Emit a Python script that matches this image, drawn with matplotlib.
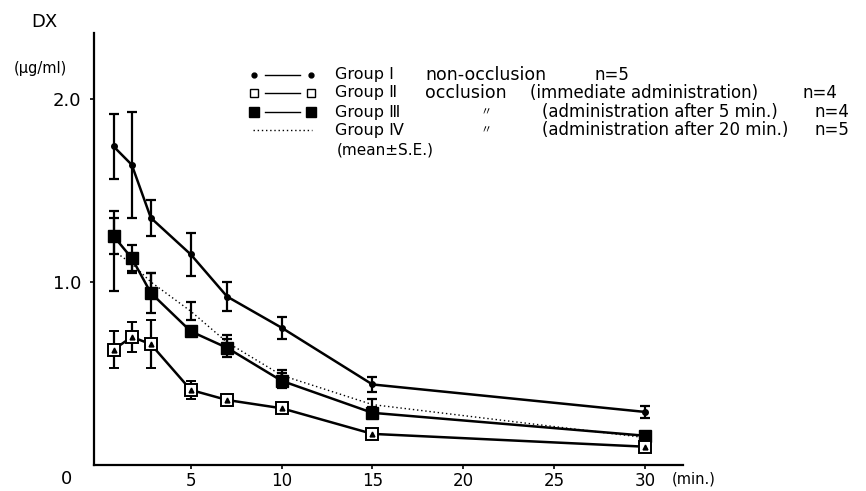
import matplotlib
matplotlib.use("Agg")
import matplotlib.pyplot as plt
from matplotlib.lines import Line2D

plt.rcParams['font.family'] = ['DejaVu Sans', 'Noto Sans CJK JP']

# sampling times (min)
minutes = [0.75, 1.75, 2.8, 5, 7, 10, 15, 30]

# DX concentration (ug/ml), mean and S.E.
group1 = [1.74, 1.64, 1.35, 1.15, 0.92, 0.75, 0.44, 0.29]
group1_se = [0.18, 0.29, 0.10, 0.12, 0.08, 0.06, 0.04, 0.035]
group2 = [0.63, 0.70, 0.66, 0.41, 0.355, 0.31, 0.17, 0.10]
group2_se = [0.10, 0.08, 0.13, 0.05, 0.03, 0.015, 0.02, 0.015]
group3 = [1.25, 1.13, 0.94, 0.73, 0.64, 0.46, 0.285, 0.16]
group3_se = [0.10, 0.07, 0.11, 0.02, 0.05, 0.04, 0.03, 0.02]
group4 = [1.17, 1.10, 1.00, 0.84, 0.67, 0.49, 0.33, 0.15]
group4_se = [0.22, 0.05, 0.05, 0.05, 0.04, 0.03, 0.03, 0.02]

x_ticks = [5, 10, 15, 20, 25, 30]
y_ticks = [1.0, 2.0]
y_tick_labels = ['1.0', '2.0']

legend_groups = ['Group Ⅰ', 'Group Ⅱ', 'Group Ⅲ', 'Group Ⅳ']
legend_cond = ['non-occlusion', 'occlusion', '〃', '〃']
legend_admin = ['', '(immediate administration)', '(administration after 5 min.)',
                '(administration after 20 min.)']
legend_n = ['n=5', 'n=4', 'n=4', 'n=5']

W, H = 866, 491
fig = plt.figure(figsize=(W / 100, H / 100), dpi=100)
ax = fig.add_axes([94 / W, (H - 465) / H, (683 - 94) / W, (465 - 33) / H])

err_kw = dict(ecolor='black', elinewidth=1.6, capsize=3.5, capthick=1.6)

ax.errorbar(minutes, group4, yerr=group4_se, color='black', lw=1.0,
            linestyle=(0, (1, 2)), **err_kw, zorder=2)
ax.errorbar(minutes, group1, yerr=group1_se, color='black', lw=1.8,
            marker='o', ms=4, **err_kw, zorder=3)
ax.errorbar(minutes, group3, yerr=group3_se, color='black', lw=1.8,
            marker='s', ms=8, mfc='black', mec='black', **err_kw, zorder=3)
ax.errorbar(minutes, group2, yerr=group2_se, color='black', lw=1.8,
            marker='s', ms=8, mfc='white', mec='black', mew=1.4, **err_kw, zorder=4)
ax.plot(minutes, group2, linestyle='none', marker='^', ms=3.5, color='black', zorder=5)

ax.set_xlim(-0.33, 32.1)
ax.set_ylim(0, 2.36)
ax.set_xticks(x_ticks)
ax.set_xticklabels([str(v) for v in x_ticks], fontsize=12)
ax.set_yticks(y_ticks)
ax.set_yticklabels(y_tick_labels, fontsize=13)
ax.tick_params(axis='x', direction='out', length=3, width=1.2, pad=2)
ax.tick_params(axis='y', direction='out', length=3, width=1.2, pad=6)
for side in ['top', 'right']:
    ax.spines[side].set_visible(False)
for side in ['left', 'bottom']:
    ax.spines[side].set_linewidth(1.6)


def fx(px):
    return px / W


def fy(py):
    return 1 - py / H


fig.text(fx(44), fy(22), 'DX', fontsize=13, ha='center', va='center')
fig.text(fx(40), fy(68), '(μg/ml)', fontsize=10.5, ha='center', va='center')
fig.text(fx(67), fy(479), '0', fontsize=13, ha='center', va='center')
fig.text(fx(694), fy(479), '(min.)', fontsize=10.5, ha='center', va='center')

# legend drawn as a text block
row_y = [75, 93, 112, 130]
sample_styles = [
    dict(marker='o', ms=3.5, mfc='black', mec='black', ls='-'),
    dict(marker='s', ms=5.5, mfc='white', mec='black', ls='-'),
    dict(marker='s', ms=6.5, mfc='black', mec='black', ls='-'),
    dict(marker=None, ls=(0, (1, 2))),
]
n_x = [595, 802, 815, 815]
admin_x = [0, 530, 542, 542]
for i, ry in enumerate(row_y):
    st = sample_styles[i]
    if st['marker'] is None:
        fig.add_artist(Line2D([fx(253), fx(312)], [fy(ry), fy(ry)], color='black',
                              lw=1.0, ls=st['ls']))
    else:
        fig.add_artist(Line2D([fx(265), fx(300)], [fy(ry), fy(ry)], color='black', lw=1.0))
        fig.add_artist(Line2D([fx(254), fx(311)], [fy(ry), fy(ry)], ls='none',
                              marker=st['marker'], ms=st['ms'], mfc=st['mfc'],
                              mec=st['mec'], color='black'))
    fig.text(fx(335), fy(ry), legend_groups[i], fontsize=11.5, va='center')
    cx = 425 if i < 2 else 480
    fig.text(fx(cx), fy(ry), legend_cond[i], fontsize=12.5 if i < 2 else 8, va='center')
    if legend_admin[i]:
        fig.text(fx(admin_x[i]), fy(ry), legend_admin[i], fontsize=12, va='center')
    fig.text(fx(n_x[i]), fy(ry), legend_n[i], fontsize=12, va='center')
fig.text(fx(337), fy(150), '(mean±S.E.)', fontsize=11, va='center')

fig.savefig('out.png', dpi=100)
